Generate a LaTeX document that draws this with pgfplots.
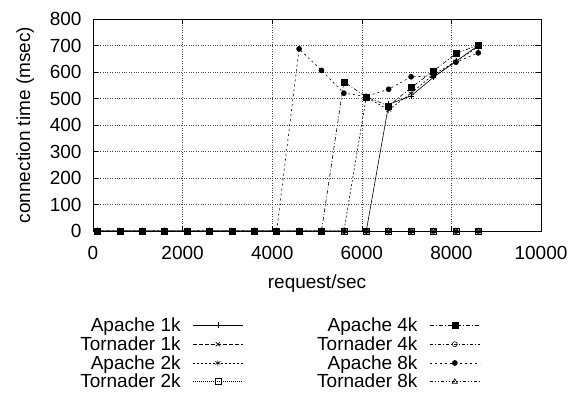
\documentclass[border=0pt]{standalone}
\usepackage{pgfplots}
\pgfplotsset{compat=1.18}
\usepackage{fontspec}
\setmainfont{Liberation Sans}
\newcommand{\chartfont}{\fontsize{19bp}{21bp}\selectfont}
\begin{document}
\begin{tikzpicture}
\useasboundingbox (0bp,0bp) rectangle (571bp,396bp);
\coordinate (axpos) at (93bp,165bp);
\begin{axis}[
  at={(axpos)}, anchor=south west,
  width=448bp, height=212bp, scale only axis,
  xmin=0, xmax=10000, ymin=0, ymax=800,
  xtick={0,2000,4000,6000,8000,10000},
  ytick={0,100,200,300,400,500,600,700,800},
  /pgf/number format/assume math mode=true,
  /pgf/number format/1000 sep={},
  scaled x ticks=false,
  tick label style={font=\chartfont},
  xticklabel style={yshift=-12bp},
  yticklabel style={xshift=-8bp},
  label style={font=\chartfont},
  xlabel={request/sec},
  ylabel={connection time (msec)},
  xlabel style={yshift=-8bp},
  ylabel style={yshift=9bp},
  grid=major,
  grid style={black!70, dotted, line width=0.5bp},
  tick align=inside,
  major tick length=5bp,
  axis line style={line width=0.8bp},
  every tick/.style={black, line width=0.6bp},
  legend columns=2,
  legend cell align=right,
  legend plot pos=right,
  legend style={draw=none, fill=none, font=\chartfont,
    at={(-0.04,-0.39)}, anchor=north west,
    row sep=-0.5bp,
    /tikz/every odd column/.append style={column sep=10bp},
    /tikz/every even column/.append style={column sep=72bp}},
  legend image code/.code={\draw[mark repeat=2,mark phase=2,#1] plot coordinates {(0bp,0bp) (25bp,0bp) (50bp,0bp)};},
  every axis plot/.append style={black, line width=0.6bp},
]
% Apache 1k
\addplot[solid, mark=+, mark size=3bp, mark options={solid}] coordinates {
(100,0)(600,0)(1100,0)(1600,0)(2100,0)(2600,0)(3100,0)(3600,0)(4100,0)(4600,0)(5100,0)(5600,0)(6100,0)(6600,478)(7100,510)(7600,580)(8100,640)(8600,700)};
\addlegendentry{Apache 1k}
% Apache 4k
\addplot[dash pattern=on 4bp off 2bp on 1bp off 2bp, mark=square*, mark size=3bp, mark options={solid}] coordinates {
(100,0)(600,0)(1100,0)(1600,0)(2100,0)(2600,0)(3100,0)(3600,0)(4100,0)(4600,0)(5100,0)(5600,563)(6100,506)(6600,472)(7100,541)(7600,604)(8100,669)(8600,702)};
\addlegendentry{Apache 4k}
% Tornader 1k
\addplot[dash pattern=on 4bp off 2bp, mark=x, mark size=3bp, mark options={solid}] coordinates {
(100,0)(600,0)(1100,0)(1600,0)(2100,0)(2600,0)(3100,0)(3600,0)(4100,0)(4600,0)(5100,0)(5600,0)(6100,0)(6600,0)(7100,0)(7600,0)(8100,0)(8600,0)};
\addlegendentry{Tornader 1k}
% Tornader 4k
\addplot[dash pattern=on 3bp off 2bp on 1bp off 2bp, mark=o, mark size=2.5bp, mark options={solid}] coordinates {
(100,0)(600,0)(1100,0)(1600,0)(2100,0)(2600,0)(3100,0)(3600,0)(4100,0)(4600,0)(5100,0)(5600,0)(6100,0)(6600,0)(7100,0)(7600,0)(8100,0)(8600,0)};
\addlegendentry{Tornader 4k}
% Apache 2k
\addplot[dash pattern=on 2bp off 2bp, mark=asterisk, mark size=3bp, mark options={solid}] coordinates {
(100,0)(600,0)(1100,0)(1600,0)(2100,0)(2600,0)(3100,0)(3600,0)(4100,0)(4600,0)(5100,0)(5600,0)(6100,505)(6600,457)(7100,520)(7600,590)(8100,640)(8600,695)};
\addlegendentry{Apache 2k}
% Apache 8k
\addplot[dash pattern=on 2bp off 3bp, mark=*, mark size=2.5bp, mark options={solid}] coordinates {
(100,0)(600,0)(1100,0)(1600,0)(2100,0)(2600,0)(3100,0)(3600,0)(4100,0)(4600,687)(5100,606)(5600,520)(6100,508)(6600,535)(7100,582)(7600,585)(8100,637)(8600,672)};
\addlegendentry{Apache 8k}
% Tornader 2k
\addplot[dash pattern=on 1bp off 1bp, mark=square, mark size=3bp, mark options={solid}] coordinates {
(100,0)(600,0)(1100,0)(1600,0)(2100,0)(2600,0)(3100,0)(3600,0)(4100,0)(4600,0)(5100,0)(5600,0)(6100,0)(6600,0)(7100,0)(7600,0)(8100,0)(8600,0)};
\addlegendentry{Tornader 2k}
% Tornader 8k
\addplot[dash pattern=on 3bp off 2bp on 1bp off 2bp on 1bp off 2bp, mark=triangle, mark size=3bp, mark options={solid}] coordinates {
(100,0)(600,0)(1100,0)(1600,0)(2100,0)(2600,0)(3100,0)(3600,0)(4100,0)(4600,0)(5100,0)(5600,0)(6100,0)(6600,0)(7100,0)(7600,0)(8100,0)(8600,0)};
\addlegendentry{Tornader 8k}
\end{axis}
\end{tikzpicture}
\end{document}
